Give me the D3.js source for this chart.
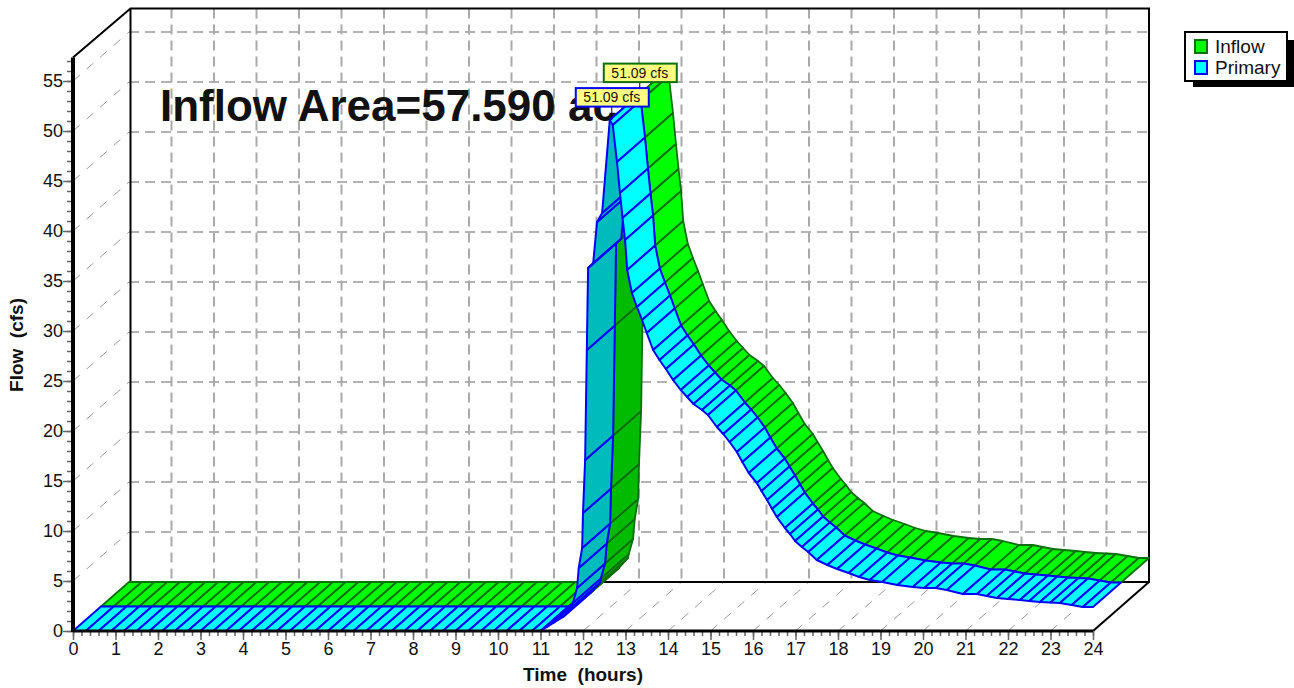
<!DOCTYPE html>
<html>
<head>
<meta charset="utf-8">
<style>
  html, body { margin: 0; padding: 0; background: #fff; }
  svg { display: block; }
  text { font-family: "Liberation Sans", Arial, sans-serif; fill: #111; }
</style>
<script src="https://cdn.jsdelivr.net/npm/d3@7"></script>
</head>
<body>
<div id="chart"></div>
<script>
// hours (same stations for both series)
const times = [
  0, 0.3, 0.6, 0.9, 1.2, 1.5, 1.8, 2.1, 2.4, 2.7, 3, 3.3, 3.6, 3.9, 4.2, 4.5, 4.8, 5.1, 5.4, 5.7,
  6, 6.3, 6.6, 6.9, 7.2, 7.5, 7.8, 8.1, 8.4, 8.7, 9, 9.3, 9.6, 9.9, 10.2, 10.5, 10.8,
  11, 11.15, 11.3, 11.53, 11.74, 11.76, 11.86, 11.9, 11.98, 12, 12.05, 12.09, 12.12, 12.24, 12.33, 12.45,
  12.63, 12.7, 12.8, 12.87, 12.93, 12.99, 13.04, 13.15, 13.27, 13.39,
  13.5, 13.65, 13.8, 13.95, 14.12, 14.3, 14.45, 14.6, 14.8, 14.94, 15.15, 15.3, 15.45, 15.62, 15.75,
  15.9, 16.09, 16.2, 16.33, 16.45, 16.56, 16.75, 16.87, 16.99, 17.15, 17.3, 17.5, 17.75, 17.98,
  18.25, 18.5, 18.75, 19.04, 19.4, 19.76, 20.03, 20.3, 20.56, 20.94, 21.27, 21.5, 21.74, 22, 22.28, 22.5,
  22.75, 23, 23.22, 23.5, 23.76, 24
];
// cfs
const primary = [
  0, 0, 0, 0, 0, 0, 0, 0, 0, 0, 0, 0, 0, 0, 0, 0, 0, 0, 0, 0,
  0, 0, 0, 0, 0, 0, 0, 0, 0, 0, 0, 0, 0, 0, 0, 0, 0,
  0, 0.4, 0.8, 1.4, 2.4, 2.8, 4.3, 6.3, 8.3, 11.8, 17.1, 28.1, 36.3, 36.8, 40.9, 41.8,
  51.09, 50.6, 46.9, 43.8, 41.3, 39.1, 36.1, 33.8, 32.4, 31.1,
  29.8, 28.1, 27.1, 26.2, 25.1, 24.1, 23.4, 22.7, 22.1, 21.6, 20.4, 19.7, 18.9, 17.9, 16.9,
  15.8, 14.8, 14, 13.1, 12.2, 11.4, 10.3, 9.7, 9, 8.4, 7.9, 7.1, 6.6, 6.2,
  5.8, 5.4, 5.1, 4.9, 4.6, 4.4, 4.3, 4.3, 4.1, 3.7, 3.7, 3.5, 3.3, 3.2, 3.1, 3,
  2.9, 2.85, 2.8, 2.6, 2.4, 2.4
];
const inflow = [
  0, 0, 0, 0, 0, 0, 0, 0, 0, 0, 0, 0, 0, 0, 0, 0, 0, 0, 0, 0,
  0, 0, 0, 0, 0, 0, 0, 0, 0, 0, 0, 0, 0, 0, 0, 0, 0,
  0, 0.4, 0.8, 1.4, 2.4, 2.8, 4.3, 6.3, 8.3, 11.8, 17.1, 28.1, 36.3, 36.8, 40.9, 41.8,
  51.09, 50.6, 46.9, 43.8, 41.3, 39.1, 36.1, 33.8, 32.4, 31.1,
  29.8, 28.1, 27.1, 26.2, 25.1, 24.1, 23.4, 22.7, 22.1, 21.6, 20.4, 19.7, 18.9, 17.9, 16.9,
  15.8, 14.8, 14, 13.1, 12.2, 11.4, 10.3, 9.7, 9, 8.4, 7.9, 7.1, 6.6, 6.2,
  5.8, 5.4, 5.1, 4.9, 4.6, 4.4, 4.3, 4.3, 4.1, 3.7, 3.7, 3.5, 3.3, 3.2, 3.1, 3,
  2.9, 2.85, 2.8, 2.6, 2.4, 2.4
];
const xMajor = d3.range(0, 25);
const xMinor = d3.range(0, 24.01, 0.2);
const yMajor = d3.range(0, 56, 5);
const yMinor = d3.range(0, 58, 1);
const yTop = 57.35;
const legendNames = ["Inflow", "Primary"];

const svg = d3.select("#chart").append("svg").attr("width", 1294).attr("height", 688);

const x = d3.scaleLinear().domain([0, 24]).range([73, 1093]);
const y = d3.scaleLinear().domain([0, 55]).range([631, 81]);
// depth: 0 = front plane, 1 = back wall
const zx = d3.scaleLinear().domain([0, 1]).range([0, 56]);
const zy = d3.scaleLinear().domain([0, 1]).range([0, -49]);
const px = (t, z) => x(t) + zx(z);
const py = (v, z) => y(v) + zy(z);

// grid on the wall, side and floor
const grid = svg.append("g").attr("fill", "none");

grid.selectAll(".wall-h").data(yMajor.slice(1)).join("line")
  .attr("x1", px(0, 1)).attr("x2", px(24, 1))
  .attr("y1", d => py(d, 1)).attr("y2", d => py(d, 1))
  .attr("stroke", "#999").attr("stroke-width", 1.5).attr("stroke-dasharray", "10,6");

grid.selectAll(".wall-v").data(xMajor.slice(1)).join("line")
  .attr("x1", d => px(d, 1)).attr("x2", d => px(d, 1))
  .attr("y1", py(yTop, 1)).attr("y2", py(0, 1))
  .attr("stroke", "#aaa").attr("stroke-width", 2).attr("stroke-dasharray", "10,6");

grid.selectAll(".side").data(yMajor.slice(1)).join("line")
  .attr("x1", px(0, 0)).attr("x2", px(0, 1))
  .attr("y1", d => py(d, 0)).attr("y2", d => py(d, 1))
  .attr("stroke", "#999").attr("stroke-width", 1).attr("stroke-dasharray", "9,9");

grid.selectAll(".floor").data(xMajor.slice(1)).join("line")
  .attr("x1", d => px(d, 0)).attr("x2", d => px(d, 1))
  .attr("y1", py(0, 0)).attr("y2", py(0, 1))
  .attr("stroke", "#999").attr("stroke-width", 1).attr("stroke-dasharray", "9,9");

// box frame
const frame = svg.append("g").attr("stroke", "#000").attr("fill", "none");
frame.append("path").attr("stroke-width", 2)
  .attr("d", d3.line()([
    [px(0, 0), py(yTop, 0)], [px(0, 1) + 1.5, py(yTop, 1)], [px(24, 1), py(yTop, 1)],
    [px(24, 1), py(0, 1)], [px(0, 1) + 1.5, py(0, 1)], [px(0, 1) + 1.5, py(yTop, 1)]
  ]));
frame.append("line").attr("stroke-width", 2)
  .attr("x1", px(24, 0)).attr("y1", py(0, 0)).attr("x2", px(24, 1)).attr("y2", py(0, 1));

// text goes behind the ribbons
svg.append("text")
  .attr("x", 160).attr("y", 121)
  .attr("font-size", 44).attr("font-weight", "bold")
  .text("Inflow Area=57.590 ac");

// one ribbon, painted in time order, quads facing away get the dark colour
function drawRibbon(values, z0, z1, colors) {
  const g = svg.append("g").attr("stroke-linejoin", "round");
  const quads = d3.pairs(d3.zip(times, values));
  g.selectAll("path").data(quads).join("path")
    .attr("d", ([a, b]) => d3.line()([
      [px(a[0], z0), py(a[1], z0)], [px(b[0], z0), py(b[1], z0)],
      [px(b[0], z1), py(b[1], z1)], [px(a[0], z1), py(a[1], z1)]
    ]) + "Z")
    .attr("fill", ([a, b]) => {
      const ex = x(b[0]) - x(a[0]), ey = y(b[1]) - y(a[1]);
      const dx = zx(z1) - zx(z0), dy = zy(z1) - zy(z0);
      return ex * dy - ey * dx > 0 ? colors.back : colors.face;
    })
    .attr("stroke", colors.line)
    .attr("stroke-width", colors.width);
}

drawRibbon(inflow, 0.5, 1, { face: "#00ff00", back: "#00bb00", line: "#0d700d", width: 1.8 });
drawRibbon(primary, 0, 0.5, { face: "#00ffff", back: "#00bbbb", line: "#0000ff", width: 2 });

// axes
const xAxisMinor = d3.axisBottom(x).tickValues(xMinor).tickSize(5).tickFormat("");
const xAxis = d3.axisBottom(x).tickValues(xMajor).tickSize(9).tickPadding(2).tickFormat(d3.format("d"));
const yAxisMinor = d3.axisLeft(y).tickValues(yMinor.filter(d => d <= yTop)).tickSize(6).tickFormat("");
const yAxis = d3.axisLeft(y).tickValues(yMajor).tickSize(10).tickPadding(0).tickFormat(d3.format("d"));

function styleAxis(g) {
  g.select(".domain").remove();
  g.selectAll("line").attr("stroke", "#666").attr("stroke-width", 1.5);
  g.selectAll("text").attr("font-size", 18).attr("fill", "#111");
}
svg.append("g").attr("transform", "translate(0,631)").call(xAxisMinor).call(styleAxis);
svg.append("g").attr("transform", "translate(0,631)").call(xAxis).call(styleAxis);
svg.append("g").attr("transform", "translate(73,0)").call(yAxisMinor).call(styleAxis);
svg.append("g").attr("transform", "translate(73,0)").call(yAxis).call(styleAxis);

svg.append("line").attr("stroke", "#000").attr("stroke-width", 3)
  .attr("x1", x(0)).attr("x2", x(24)).attr("y1", y(0)).attr("y2", y(0));
svg.append("line").attr("stroke", "#000").attr("stroke-width", 4)
  .attr("x1", x(0)).attr("x2", x(0)).attr("y1", y(0) + 1).attr("y2", y(yTop));

svg.append("text").attr("x", 583).attr("y", 681)
  .attr("text-anchor", "middle").attr("font-size", 19).attr("font-weight", "bold")
  .style("white-space", "pre").text("Time  (hours)");
svg.append("text").attr("transform", "translate(23,345) rotate(-90)")
  .attr("text-anchor", "middle").attr("font-size", 19).attr("font-weight", "bold")
  .style("white-space", "pre").text("Flow  (cfs)");

// peak labels, one for each series at its front edge
const peak = d3.greatest(d3.zip(times, primary), d => d[1]);
function peakLabel(z, stroke) {
  const cx = px(peak[0], z) + 2, top = py(peak[1], z) - 32;
  const g = svg.append("g");
  g.append("line").attr("x1", cx).attr("x2", cx).attr("y1", top + 19).attr("y2", py(peak[1], z))
    .attr("stroke", "#000");
  g.append("rect").attr("x", cx - 36).attr("y", top).attr("width", 73).attr("height", 18.5)
    .attr("fill", "#ffff80").attr("stroke", stroke).attr("stroke-width", 2);
  g.append("text").attr("x", cx).attr("y", top + 14)
    .attr("text-anchor", "middle").attr("font-size", 14).text(d3.format(".2f")(peak[1]) + " cfs");
}
peakLabel(0.5, "#0d700d");
peakLabel(0, "#0000ff");

// legend
const legend = svg.append("g");
legend.append("rect").attr("x", 1193).attr("y", 40).attr("width", 101).attr("height", 47).attr("fill", "#000");
legend.append("rect").attr("x", 1185).attr("y", 32).attr("width", 102).attr("height", 49)
  .attr("fill", "#fff").attr("stroke", "#000").attr("stroke-width", 2);
const legendColors = d3.scaleOrdinal().domain(legendNames).range(["#00ff00", "#00ffff"]);
const legendLines = d3.scaleOrdinal().domain(legendNames).range(["#0d700d", "#0000ff"]);
const ly = d3.scalePoint().domain(legendNames).range([46, 67]);
legend.selectAll(".sw").data(legendNames).join("rect")
  .attr("x", 1195).attr("y", d => ly(d) - 6).attr("width", 12).attr("height", 13)
  .attr("fill", d => legendColors(d)).attr("stroke", d => legendLines(d)).attr("stroke-width", 2);
legend.selectAll(".lb").data(legendNames).join("text")
  .attr("x", 1215).attr("y", d => ly(d) + 6.5).attr("font-size", 19).text(d => d);
</script>
</body>
</html>
